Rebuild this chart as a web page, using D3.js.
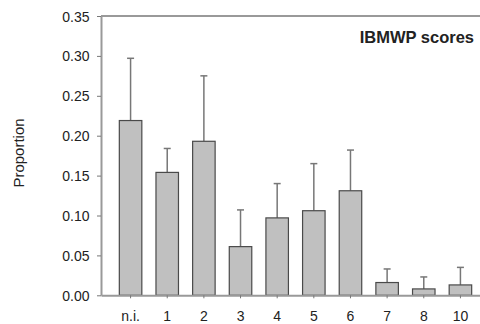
<!DOCTYPE html>
<html>
<head>
<meta charset="utf-8">
<script src="https://cdnjs.cloudflare.com/ajax/libs/d3/7.8.5/d3.min.js"></script>
<style>
  body { margin: 0; background: #fff; }
  text { font-family: "Liberation Sans", Arial, sans-serif; fill: #222; }
</style>
</head>
<body>
<div id="chart"></div>
<script>
var categories = ["n.i.", "1", "2", "3", "4", "5", "6", "7", "8", "10"];
var proportions = [0.219, 0.154, 0.193, 0.061, 0.097, 0.106, 0.131, 0.016, 0.008, 0.013];
var errorTops = [0.297, 0.184, 0.275, 0.107, 0.140, 0.165, 0.182, 0.033, 0.023, 0.035];
var yTicks = [0, 0.05, 0.10, 0.15, 0.20, 0.25, 0.30, 0.35];

var W = 480, H = 324;
var plotLeft = 101, plotTop = 16, plotBottom = 295.3;

var data = categories.map(function(c, i) {
  return {cat: c, v: proportions[i], e: errorTops[i]};
});

var xScale = d3.scaleBand()
    .domain(categories)
    .range([plotLeft, 490])
    .paddingInner(0.386)
    .paddingOuter(0.5);

var yScale = d3.scaleLinear()
    .domain([0, 0.35])
    .range([plotBottom, plotTop]);

var svg = d3.select("#chart").append("svg")
    .attr("width", W)
    .attr("height", H);

// top frame line
svg.append("line")
    .attr("x1", plotLeft).attr("x2", W)
    .attr("y1", yScale(0.35)).attr("y2", yScale(0.35))
    .attr("stroke", "#999").attr("stroke-width", 2);

// error bars (drawn first so the bar covers the bottom end)
var err = svg.append("g").attr("class", "errors");
err.selectAll("line.v").data(data).enter().append("line")
    .attr("class", "v")
    .attr("x1", function(d) { return xScale(d.cat) + xScale.bandwidth() / 2; })
    .attr("x2", function(d) { return xScale(d.cat) + xScale.bandwidth() / 2; })
    .attr("y1", function(d) { return yScale(d.v); })
    .attr("y2", function(d) { return yScale(d.e); })
    .attr("stroke", "#777").attr("stroke-width", 1.5);
err.selectAll("line.cap").data(data).enter().append("line")
    .attr("class", "cap")
    .attr("x1", function(d) { return xScale(d.cat) + xScale.bandwidth() / 2 - 3.5; })
    .attr("x2", function(d) { return xScale(d.cat) + xScale.bandwidth() / 2 + 3.5; })
    .attr("y1", function(d) { return yScale(d.e); })
    .attr("y2", function(d) { return yScale(d.e); })
    .attr("stroke", "#777").attr("stroke-width", 1.5);

// bars
svg.selectAll("rect.bar").data(data).enter().append("rect")
    .attr("class", "bar")
    .attr("x", function(d) { return xScale(d.cat); })
    .attr("y", function(d) { return yScale(d.v); })
    .attr("width", xScale.bandwidth())
    .attr("height", function(d) { return yScale(0) - yScale(d.v); })
    .attr("fill", "#c0c0c0")
    .attr("stroke", "#4a4a4a")
    .attr("stroke-width", 1.2);

// y axis
var yAxis = svg.append("g")
    .attr("transform", "translate(" + plotLeft + ",0)")
    .call(d3.axisLeft(yScale).tickValues(yTicks).tickSize(4).tickSizeOuter(0).tickFormat(d3.format(".2f")));

// x axis
var xAxis = svg.append("g")
    .attr("transform", "translate(0," + plotBottom + ")")
    .call(d3.axisBottom(xScale).tickSize(3).tickSizeOuter(0));

[yAxis, xAxis].forEach(function(a) {
  a.select(".domain").attr("stroke", "#999").attr("stroke-width", 2);
  a.selectAll(".tick line").attr("stroke", "#777").attr("stroke-width", 1);
  a.selectAll(".tick text").style("font-size", "14px").attr("fill", "#1a1a1a");
});
yAxis.selectAll(".tick text").attr("x", -11.5).attr("dy", "0.36em");
xAxis.selectAll(".tick text").attr("y", 15.3);

// y label
svg.append("text")
    .attr("transform", "rotate(-90)")
    .attr("x", -153)
    .attr("y", 24)
    .attr("text-anchor", "middle")
    .style("font-size", "15px")
    .text("Proportion");

// title inside plot
svg.append("text")
    .attr("x", 474)
    .attr("y", 43)
    .attr("text-anchor", "end")
    .style("font-size", "16.5px")
    .style("font-weight", "bold")
    .attr("fill", "#111")
    .text("IBMWP scores");
</script>
</body>
</html>
